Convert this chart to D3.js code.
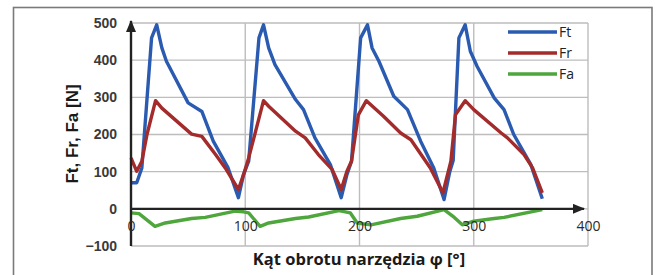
<!DOCTYPE html>
<html lang="pl">
<head>
    <meta charset="UTF-8">
    <title>Ft, Fr, Fa</title>
    <script src="https://cdn.jsdelivr.net/npm/d3@7"></script>
    <style>
        body{ margin: 0; background: #fff; }
        .grid line{ stroke: #bdbdbd; stroke-width: 1.4px; }
        .ylab text{ font-family: "Liberation Sans", Arial, sans-serif; font-weight: bold; font-size: 14px; fill: #3a3a3a; }
        .xlab text{ font-family: "Open Sans", sans-serif; font-size: 14px; fill: #2a2a2a; }
        .series{ fill: none; stroke-width: 3.4px; stroke-linejoin: round; }
        .title{ font-weight: bold; fill: #1a1a1a; }
    </style>
</head>
<body>
<svg id="svg_main" width="656" height="275"></svg>
<script>
    const width = 656;
    const height = 275;

    // angle [deg], force [N]
    const ft = [[0,70],[5,70],[9.5,110],[18,460],[22.5,495],[27,433],[31,397],[50,285],[62,262],[72,182],[85,110],[94,30],
        [98.5,92],[103,128],[112,460],[116,495],[120.5,433],[126,388],[144,294],[151,267],[161,191],[174.5,119],[184,30],
        [189,92],[193,128],[201,460],[207,495],[211,433],[217,397],[230,303],[242,267],[253.5,182],[265,110],[274,25],
        [279,100],[282,130],[287,460],[292.5,495],[297,424],[303,383],[318,298],[326.5,267],[335,200],[350,119],[360,27]];
    const fr = [[0,137],[5,101],[9.5,128],[14,200],[21.5,291],[27,271],[53,201],[62,195],[74,146],[82.5,110],[94,52],
        [98.5,92],[103,137],[116,291],[120.5,276],[144,209],[152.5,191],[164,146],[176,106],[184,52],
        [189,101],[193,128],[199,253],[206,291],[221,249],[236,204],[245,186],[262,110],[273,43],
        [280,128],[284,253],[292.5,291],[300,267],[324,204],[329.5,191],[344,146],[351.5,110],[360,43]];
    const fa = [[0,-11],[7,-13],[21,-47],[30,-38],[53,-26],[65,-23],[91,-6],[98.5,-8],[103,-11],[113,-47],[120.5,-38],
        [144,-26],[155.5,-22],[182,-5],[192,-11],[198,-38],[210,-43],[236,-26],[250.5,-20],[274,-2],[283,-23],[290,-43],
        [300,-33],[318,-26],[326.5,-23],[360,-2]];

    const seriesNames = ['Ft', 'Fr', 'Fa'];
    const seriesColors = ['#2a5bb0', '#a32b2b', '#4ea63c'];
    const xTicks = [0, 100, 200, 300, 400];
    const yTicks = [-100, 0, 100, 200, 300, 400, 500];

    let svg = d3.select('#svg_main');

    // outer frame
    svg.append('rect')
        .attr('x', 13.5).attr('y', 7.5)
        .attr('width', 638.5).attr('height', 300)
        .attr('fill', 'none').attr('stroke', '#7a7a7a').attr('stroke-width', 1.6);

    let xScale = d3.scaleLinear().domain([0, 400]).range([131, 588]);
    let yScale = d3.scaleLinear().domain([-100, 500]).range([246, 23]);

    // grid
    let grid = svg.append('g').attr('class', 'grid');
    grid.selectAll('.h').data(yTicks).enter().append('line')
        .attr('x1', xScale(0)).attr('x2', xScale(400))
        .attr('y1', d => yScale(d)).attr('y2', d => yScale(d));
    grid.selectAll('.v').data(xTicks.slice(1)).enter().append('line')
        .attr('x1', d => xScale(d)).attr('x2', d => xScale(d))
        .attr('y1', yScale(500)).attr('y2', yScale(-100));

    // arrow marker
    svg.append('defs').append('marker')
        .attr('id', 'arrow')
        .attr('viewBox', '0 0 12 10')
        .attr('refX', 11).attr('refY', 5)
        .attr('markerWidth', 12).attr('markerHeight', 10)
        .attr('markerUnits', 'userSpaceOnUse')
        .attr('orient', 'auto')
        .append('path').attr('d', 'M0,0 L12,5 L0,10 Z').attr('fill', '#222');

    // series lines
    let line = d3.line().x(d => xScale(d[0])).y(d => yScale(d[1]));
    let plots = svg.append('g');
    [ft, fr, fa].forEach((s, i) => {
        plots.append('path').datum(s)
            .attr('class', 'series')
            .attr('stroke', seriesColors[i])
            .attr('d', line);
    });

    // axes lines with arrows
    svg.append('line')
        .attr('x1', xScale(0)).attr('x2', xScale(400) - 4)
        .attr('y1', yScale(0)).attr('y2', yScale(0))
        .attr('stroke', '#222').attr('stroke-width', 2.2)
        .attr('marker-end', 'url(#arrow)');
    svg.append('line')
        .attr('x1', xScale(0)).attr('x2', xScale(0))
        .attr('y1', yScale(-100)).attr('y2', yScale(500) - 2)
        .attr('stroke', '#222').attr('stroke-width', 2.4)
        .attr('marker-end', 'url(#arrow)');

    // tick labels
    let yAxis = d3.axisLeft(yScale).tickValues(yTicks).tickSize(0).tickPadding(14);
    let ya = svg.append('g').attr('class', 'ylab').attr('transform', `translate(${xScale(0)},0)`).call(yAxis);
    ya.select('.domain').remove();

    let xAxis = d3.axisBottom(xScale).tickValues(xTicks).tickSize(0).tickPadding(12);
    let xa = svg.append('g').attr('class', 'xlab').attr('transform', `translate(0,${yScale(0)})`).call(xAxis);
    xa.select('.domain').remove();

    // titles
    svg.append('text')
        .attr('class', 'title')
        .attr('x', 359).attr('y', 265)
        .attr('text-anchor', 'middle')
        .style('font-family', '"Open Sans", sans-serif').style('font-size', '16.5px')
        .text('Kąt obrotu narzędzia φ [°]');
    svg.append('text')
        .attr('class', 'title')
        .attr('transform', 'translate(78,134) rotate(-90)')
        .attr('text-anchor', 'middle')
        .style('font-family', '"Liberation Sans", Arial, sans-serif').style('font-size', '17px')
        .text('Ft, Fr, Fa [N]');

    // legend
    let legend = svg.append('g');
    seriesNames.forEach((n, i) => {
        let y = 32 + i * 21;
        legend.append('line')
            .attr('x1', 508).attr('x2', 557).attr('y1', y).attr('y2', y)
            .attr('stroke', seriesColors[i]).attr('stroke-width', 3.4);
        legend.append('text')
            .attr('x', 559).attr('y', y + 5)
            .style('font-family', '"Open Sans", sans-serif').style('font-size', '14px')
            .attr('fill', '#222')
            .text(n);
    });
</script>
</body>
</html>
